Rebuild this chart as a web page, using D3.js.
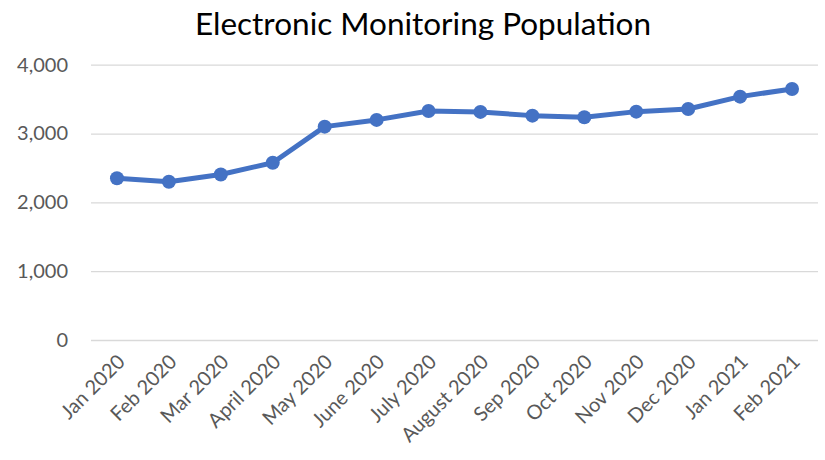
<!DOCTYPE html>
<html>
<head>
<meta charset="utf-8">
<script src="https://cdn.jsdelivr.net/npm/d3@7"></script>
<style>
  html, body { margin: 0; padding: 0; background: #fff; }
  svg text { font-family: Lato, "Open Sans", sans-serif; }
</style>
</head>
<body>
<svg id="chart" width="825" height="460"></svg>
<script>
const months = ["Jan 2020", "Feb 2020", "Mar 2020", "April 2020", "May 2020", "June 2020",
  "July 2020", "August 2020", "Sep 2020", "Oct 2020", "Nov 2020", "Dec 2020", "Jan 2021", "Feb 2021"];
const population = [2350, 2300, 2405, 2575, 3100, 3198, 3328, 3314, 3260, 3237, 3318, 3357, 3536, 3648];
const yTicks = [0, 1000, 2000, 3000, 4000];
const titleText = "Electronic Monitoring Population";

(function draw() {
  const svg = d3.select("#chart");
  const plotLeft = 91, plotRight = 818, plotTop = 64.7, plotBottom = 340;

  const x = d3.scaleBand().domain(months).range([plotLeft, plotRight]);
  const y = d3.scaleLinear().domain([0, 4000]).range([plotBottom, plotTop]);

  svg.append("text")
    .attr("x", 423).attr("y", 35)
    .attr("text-anchor", "middle")
    .attr("font-size", 31.5)
    .attr("fill", "#000")
    .text(titleText);

  // horizontal gridlines and value labels
  const yAxis = d3.axisLeft(y).tickValues(yTicks).tickSize(-(plotRight - plotLeft)).tickFormat(d3.format(","));
  svg.append("g")
    .attr("transform", `translate(${plotLeft},0)`)
    .call(yAxis)
    .call(g => g.select(".domain").remove())
    .call(g => g.selectAll(".tick line").attr("stroke", "#d9d9d9").attr("stroke-width", 1.3))
    .call(g => g.selectAll(".tick text")
      .attr("x", -23).attr("fill", "#595959").attr("font-size", 20).attr("font-family", "Lato, sans-serif"));

  // category labels, rotated
  const xAxis = d3.axisBottom(x).tickSize(0);
  svg.append("g")
    .attr("transform", `translate(0,${plotBottom})`)
    .call(xAxis)
    .call(g => g.select(".domain").remove())
    .call(g => g.selectAll(".tick text")
      .attr("fill", "#595959").attr("font-size", 20).attr("font-family", "Lato, sans-serif")
      .attr("text-anchor", "end")
      .attr("dy", 0)
      .attr("transform", "translate(7,21) rotate(-45)"));

  const cx = d => x(d) + x.bandwidth() / 2;

  const line = d3.line()
    .x((d, i) => cx(months[i]))
    .y(d => y(d));

  svg.append("path")
    .datum(population)
    .attr("d", line)
    .attr("fill", "none")
    .attr("stroke", "#4472C4")
    .attr("stroke-width", 5)
    .attr("stroke-linejoin", "round");

  svg.append("g").selectAll("circle")
    .data(population)
    .join("circle")
    .attr("cx", (d, i) => cx(months[i]))
    .attr("cy", d => y(d))
    .attr("r", 7)
    .attr("fill", "#4472C4");
})();
</script>
</body>
</html>
